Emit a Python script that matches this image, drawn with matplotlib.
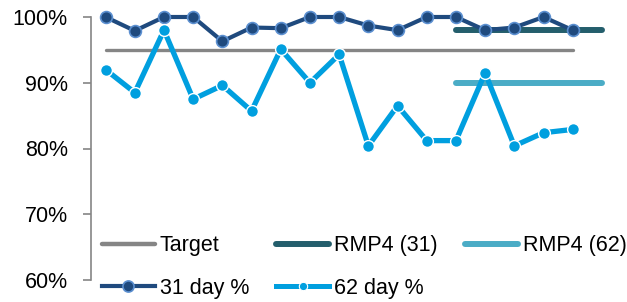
import numpy as np
import matplotlib.pyplot as plt
from matplotlib.lines import Line2D
from matplotlib.ticker import FuncFormatter

plt.rcParams['font.family'] = ['Liberation Sans', 'DejaVu Sans']

# months (x axis is hidden in the original)
periods = list(range(18))

day31 = [100, 97.9, 100, 100, 96.3, 98.4, 98.3, 100, 100, 98.7,
         98.0, 100, 100, 98.0, 98.4, 100, 98.0, np.nan]
day62 = [92.0, 88.5, 98.0, 87.5, 89.6, 85.7, 95.1, 90.0, 94.3, 80.4,
         86.5, 81.2, 81.2, 91.5, 80.4, 82.4, 82.9, np.nan]
target = [95] * 17 + [np.nan]
rmp31 = [np.nan] * 12 + [98.0] * 6
rmp62 = [np.nan] * 12 + [90.0] * 6

c31 = '#1f4a7e'
c62 = '#009fdf'
cgrey = '#858585'
crmp31 = '#245e6c'
crmp62 = '#4bacc6'

fig = plt.figure(figsize=(6.27, 3.02), dpi=100)
ax = fig.add_axes([91 / 627, 22 / 302, (616.5 - 91) / 627, 263 / 302])

ax.plot(periods, target, color=cgrey, lw=2.4, solid_capstyle='round')
ax.plot(periods, rmp31, color=crmp31, lw=4.3, solid_capstyle='round')
ax.plot(periods, rmp62, color=crmp62, lw=4.3, solid_capstyle='round')
ax.plot(periods, day31, color=c31, lw=3, marker='o', ms=8.5,
        mfc=c31, mec='#5b8fd0', mew=1.2, clip_on=False)
ax.plot(periods, day62, color=c62, lw=3.8, marker='o', ms=8.5,
        mfc=c62, mec='white', mew=1.0, clip_on=False)

ax.set_xlim(-0.5, 17.5)
ax.set_ylim(60, 100)
ax.set_yticks([60, 70, 80, 90, 100])
ax.yaxis.set_major_formatter(FuncFormatter(lambda v, p: f'{v:.0f}%'))
ax.tick_params(axis='y', labelsize=15.5, length=6, width=1.2, color=cgrey,
               pad=10.8)
ax.set_xticks([])
for s in ['top', 'right', 'bottom']:
    ax.spines[s].set_visible(False)
ax.spines['left'].set_color(cgrey)
ax.spines['left'].set_linewidth(1.2)

handles = [
    Line2D([], [], color=cgrey, lw=3.2, solid_capstyle='round'),
    Line2D([], [], color=c31, lw=3, marker='o', ms=8, mfc=c31,
           mec='#5b8fd0', mew=1.2),
    Line2D([], [], color=crmp31, lw=4.3, solid_capstyle='round'),
    Line2D([], [], color=c62, lw=3.6, marker='o', ms=6, mfc=c62,
           mec='white', mew=0.8),
    Line2D([], [], color=crmp62, lw=4.3, solid_capstyle='round'),
]
labels = ['Target', '31 day %', 'RMP4 (31)', '62 day %', 'RMP4 (62)']
fig.legend(handles, labels, ncol=3, loc='lower left',
           bbox_to_anchor=(102 / 627, 3 / 302), frameon=False, fontsize=15.5,
           borderpad=0, borderaxespad=0, handlelength=2.46,
           handletextpad=0.23, columnspacing=1.25, labelspacing=1.02)

fig.savefig('out.png', dpi=100)
